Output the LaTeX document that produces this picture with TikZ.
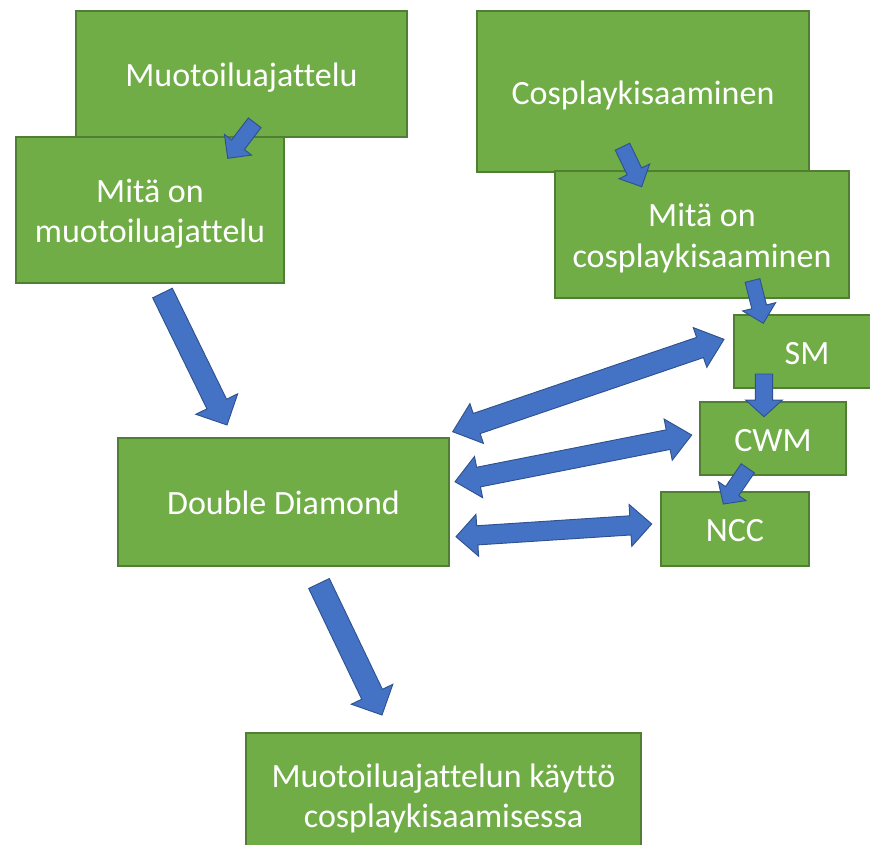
\documentclass[tikz,border=0pt]{standalone}
\usepackage{fontspec}
\setmainfont{Carlito}[Ligatures=NoCommon]
\usetikzlibrary{calc}

\definecolor{boxgreen}{HTML}{70AD47}
\definecolor{boxedge}{HTML}{507E32}
\definecolor{arrowblue}{HTML}{4472C4}
\definecolor{arrowedge}{HTML}{2F528F}

\newcommand{\px}{0.75pt}
% struts that fix the vertical placement of a label inside its box
\newcommand{\topstrut}{\rule{0pt}{0.98em}}
\newcommand{\botstrut}{\rule[-0.24em]{0pt}{0pt}}

% Block arrow: #1 tail, #2 tip, #3 half shaft width, #4 half head width, #5 head length
\newcommand{\blockarrow}[5]{%
  \coordinate (ba-h) at ($(#2)!#5!(#1)$);
  \draw[fatarrow] ($(#1)!#3!90:(#2)$) -- ($(ba-h)!#3!90:(#2)$) -- ($(ba-h)!#4!90:(#2)$)
    -- (#2) -- ($(ba-h)!#4!-90:(#2)$) -- ($(ba-h)!#3!-90:(#2)$) -- ($(#1)!#3!-90:(#2)$) -- cycle;
}
% Double-headed block arrow between #1 and #2
\newcommand{\twowayarrow}[5]{%
  \coordinate (da-a) at ($(#1)!#5!(#2)$);
  \coordinate (da-b) at ($(#2)!#5!(#1)$);
  \draw[fatarrow] (#1) -- ($(da-a)!#4!90:(#2)$) -- ($(da-a)!#3!90:(#2)$)
    -- ($(da-b)!#3!90:(#2)$) -- ($(da-b)!#4!90:(#2)$) -- (#2)
    -- ($(da-b)!#4!-90:(#2)$) -- ($(da-b)!#3!-90:(#2)$)
    -- ($(da-a)!#3!-90:(#2)$) -- ($(da-a)!#4!-90:(#2)$) -- cycle;
}

\tikzset{
  greenbox/.style={draw=boxedge, fill=boxgreen, line width=1.1pt, text=white,
    inner sep=0pt, align=center, font=\fontsize{25.5}{30.5}\selectfont},
  fatarrow/.style={draw=arrowedge, fill=arrowblue, line width=0.7pt, line join=miter},
}

\begin{document}
\begin{tikzpicture}[x=0.75pt, y=-0.75pt]
\useasboundingbox (0,0) rectangle (870,845);
\clip (0,0) rectangle (870,845);

% left column
\node[greenbox, minimum width=331*\px, minimum height=126*\px] (m1) at (241.5,74) {\topstrut Muotoiluajattelu\botstrut};
\node[greenbox, minimum width=268*\px, minimum height=146*\px] (m2) at (150,210) {\topstrut Mitä on\\muotoiluajattelu\botstrut};

% right column
\node[greenbox, minimum width=332*\px, minimum height=161*\px] (c1) at (643,91.5) {\topstrut Cosplaykisaaminen\botstrut};
\node[greenbox, minimum width=294*\px, minimum height=127*\px] (c2) at (702,234.5) {\topstrut Mitä on\\cosplaykisaaminen\botstrut};
\node[greenbox, minimum width=146*\px, minimum height=73*\px] (sm) at (807,351.5) {\topstrut SM\botstrut};
\node[greenbox, minimum width=146*\px, minimum height=73*\px] (cwm) at (773,438.5) {\topstrut CWM\botstrut};
\node[greenbox, minimum width=148*\px, minimum height=74*\px] (ncc) at (735,529) {\topstrut NCC\botstrut};

% centre and bottom
\node[greenbox, minimum width=331*\px, minimum height=128*\px] (dd) at (283.5,502) {\topstrut Double Diamond\botstrut};
\node[greenbox, minimum width=395*\px, minimum height=124*\px] (fin) at (443.5,795) {\topstrut Muotoiluajattelun käyttö\\cosplaykisaamisessa\botstrut};

% arrow end points
\coordinate (a1t) at (254.7,122.8);  \coordinate (a1h) at (227.7,158.3);
\coordinate (a2t) at (162.5,293);    \coordinate (a2h) at (227,425);
\coordinate (a3t) at (622.5,146.7);  \coordinate (a3h) at (641.7,186.7);
\coordinate (a4t) at (752.5,280.5);  \coordinate (a4h) at (763.3,323.3);
\coordinate (a5t) at (764,374);      \coordinate (a5h) at (764,416.7);
\coordinate (a6t) at (747.8,468.3);  \coordinate (a6h) at (723.3,504);
\coordinate (a7a) at (452.7,431.7);  \coordinate (a7b) at (724,339.3);
\coordinate (a8a) at (455,481.7);    \coordinate (a8b) at (691.7,435);
\coordinate (a9a) at (456,536.7);    \coordinate (a9b) at (651.7,524);
\coordinate (a10t) at (319,583.5);   \coordinate (a10h) at (382,715);

% small step arrows
\blockarrow{a1t}{a1h}{6pt}{12.75pt}{12.75pt}
\blockarrow{a3t}{a3h}{6pt}{12.75pt}{12.75pt}
\blockarrow{a4t}{a4h}{5.7pt}{12.75pt}{12.75pt}
\blockarrow{a5t}{a5h}{6.5pt}{13.75pt}{12.5pt}
\blockarrow{a6t}{a6h}{6pt}{12.6pt}{11.7pt}

% large arrows
\blockarrow{a2t}{a2h}{8.2pt}{17.5pt}{17.5pt}
\blockarrow{a10t}{a10h}{8.6pt}{17.25pt}{17.25pt}

% two-way arrows
\twowayarrow{a7a}{a7b}{8pt}{15.75pt}{19pt}
\twowayarrow{a8a}{a8b}{7.5pt}{15.75pt}{18pt}
\twowayarrow{a9a}{a9b}{7.2pt}{15.75pt}{16pt}
\end{tikzpicture}
\end{document}
